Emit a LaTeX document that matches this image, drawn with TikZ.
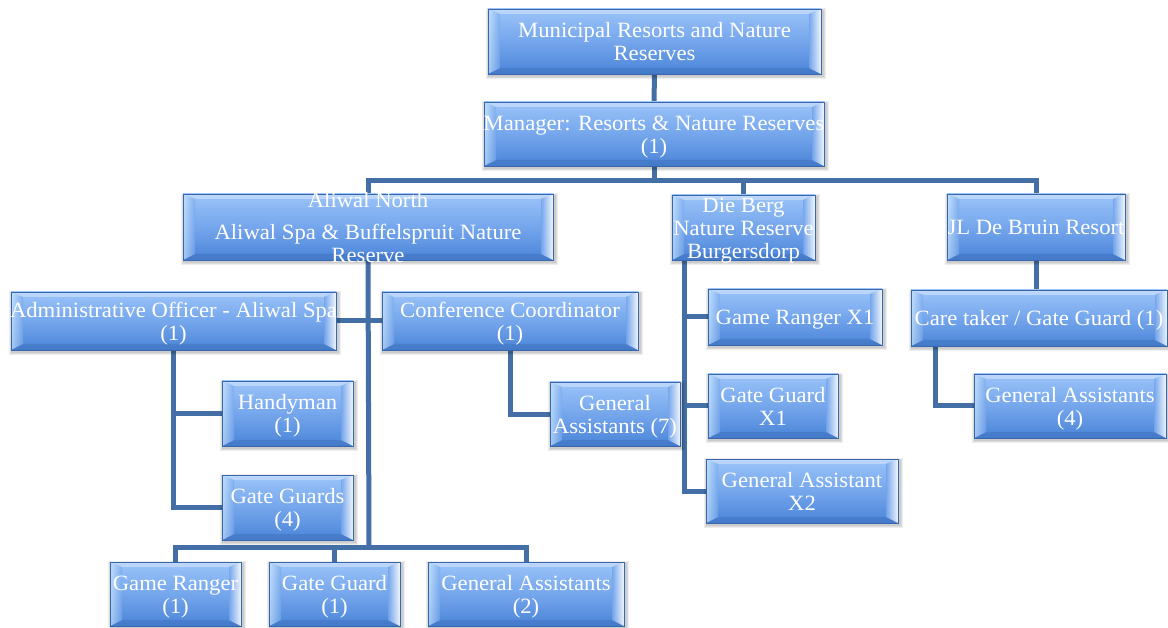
\documentclass[tikz,border=0pt]{standalone}
\usepackage{fontspec}
\setmainfont{Liberation Serif}[FakeStretch=1.04]
\usetikzlibrary{calc}
\definecolor{conn}{HTML}{436FA6}
\definecolor{boxtop}{HTML}{9AC3F8}
\definecolor{boxmid}{HTML}{75A6EC}
\definecolor{boxbot}{HTML}{4A84D8}
\definecolor{boxedge}{HTML}{3867AE}
\definecolor{bevlight}{HTML}{D8F0FF}
\pgfdeclarelayer{paper}
\pgfdeclarelayer{bg}
\pgfsetlayers{paper,bg,main}

% centred label text that may run past the box edges without resizing it
\newcommand\bt[1]{\makebox[0pt]{\smash{\raisebox{-8.5pt}{\begin{tabular}{@{}c@{}}#1\end{tabular}}}}}

\tikzset{
  orgbox/.style={draw=boxedge, line width=0.9pt,
    top color=boxtop, bottom color=boxbot, middle color=boxmid,
    inner sep=0pt, text=white, font=\fontsize{21.8}{23}\selectfont,
    path picture={
      \coordinate (pa) at (path picture bounding box.south west);
      \coordinate (pb) at (path picture bounding box.north east);
      % top bevel
      \fill[white, opacity=.35] (pa|-pb) -- (pb) -- ($(pb)+(-12pt,-5pt)$)
        -- ($(pa|-pb)+(12pt,-5pt)$) -- cycle;
      % bottom bevel
      \fill[boxedge, opacity=.35] (pa) -- (pb|-pa) -- ($(pb|-pa)+(-12pt,6pt)$)
        -- ($(pa)+(12pt,6pt)$) -- cycle;
      % left bevel
      \shade[left color=bevlight, right color=boxmid, opacity=.65] (pa) -- (pa|-pb)
        -- ($(pa|-pb)+(12pt,-5pt)$) -- ($(pa)+(12pt,6pt)$) -- cycle;
      % right bevel
      \shade[left color=boxmid, right color=white, opacity=.9] (pb|-pa) -- (pb)
        -- ($(pb)+(-12pt,-5pt)$) -- ($(pb|-pa)+(-12pt,6pt)$) -- cycle;
    }},
  link/.style={draw=conn, line width=5pt}
}

% \orgnode{name}{x1}{y1}{x2}{y2}{text}
\newcommand\orgnode[6]{%
  \foreach \k in {1,2,3}
    \fill[black, opacity=.07] ({#2+1-\k},{#3+2-\k}) rectangle ({#4+2+\k},{#5+2+\k});
  \node[orgbox, minimum width={(#4-#2)*1pt}, minimum height={(#5-#3)*1pt}]
    (#1) at ({(#2+#4)/2},{(#3+#5)/2}) {\bt{#6}};%
}

\begin{document}
\begin{tikzpicture}[x=1pt, y=-1pt]
\useasboundingbox (0,0) rectangle (1168,628);
\begin{pgfonlayer}{paper}
  \fill[white] (0,0) rectangle (1168,628);
\end{pgfonlayer}

% top of the chart
\orgnode{muni}{488}{9}{821}{74}{Municipal Resorts and Nature\\Reserves}
\orgnode{mgr}{484}{102}{824}{166}{Manager: Resorts \& Nature Reserves\\(1)}

% resorts
\orgnode{aliwal}{183}{194}{553}{260}{Aliwal North\\[9pt]Aliwal Spa \& Buffelspruit Nature\\Reserve}
\orgnode{berg}{672}{195}{815}{260}{Die Berg\\Nature Reserve\\Burgersdorp}
\orgnode{jl}{947}{194}{1125}{260}{JL De Bruin Resort}

% JL De Bruin staff
\orgnode{care}{911}{290}{1167}{346}{Care taker / Gate Guard (1)}
\orgnode{gafour}{974}{374}{1166}{438}{General Assistants\\(4)}

% Die Berg staff
\orgnode{grx}{708}{289}{882}{345}{Game Ranger X1}
\orgnode{ggx}{708}{374}{838}{438}{Gate Guard\\X1}
\orgnode{gax}{706}{459}{898}{523}{General Assistant\\X2}

% Aliwal staff
\orgnode{admin}{11}{292}{336}{350}{Administrative Officer - Aliwal Spa\\(1)}
\orgnode{conf}{382}{292}{638}{350}{Conference Coordinator\\(1)}
\orgnode{gaseven}{550}{382}{680}{446}{General\\Assistants (7)}
\orgnode{handy}{222}{381}{353}{446}{Handyman\\(1)}
\orgnode{gguards}{222}{475}{353}{540}{Gate Guards\\(4)}
\orgnode{grb}{110}{562}{241}{626}{Game Ranger\\(1)}
\orgnode{ggb}{269}{562}{400}{626}{Gate Guard\\(1)}
\orgnode{gatwo}{428}{562}{624}{626}{General Assistants\\(2)}

\begin{pgfonlayer}{bg}
  \coordinate (bus) at (654,181);
  \coordinate (abus) at (369,547);
  \draw[link] (muni.south) -- (mgr.north);
  \draw[link] (mgr.south) -- (bus) -| (aliwal.north);
  \draw[link] (bus) -| (berg.north);
  \draw[link] (bus) -| (jl.north);
  % JL De Bruin
  \draw[link] (jl.south) -- (jl.south |- care.north);
  \draw[link] ($(care.south west)+(25pt,0)$) |- (gafour.west);
  % Die Berg
  \draw[link] ($(berg.south west)+(13pt,0)$) |- (gax.west);
  \draw[link] ($(berg.south west)+(13pt,0)$) |- (grx.west);
  \draw[link] ($(berg.south west)+(13pt,0)$) |- (ggx.west);
  % Aliwal
  \draw[link] (aliwal.south) -- (abus);
  \draw[link] (admin.east) -- (conf.west);
  \draw[link] (abus) -| (grb.north);
  \draw[link] (abus) -| (ggb.north);
  \draw[link] (abus) -| (gatwo.north);
  \draw[link] (admin.south) |- (handy.west);
  \draw[link] (admin.south) |- (gguards.west);
  \draw[link] (conf.south) |- (gaseven.west);
\end{pgfonlayer}
\end{tikzpicture}
\end{document}
